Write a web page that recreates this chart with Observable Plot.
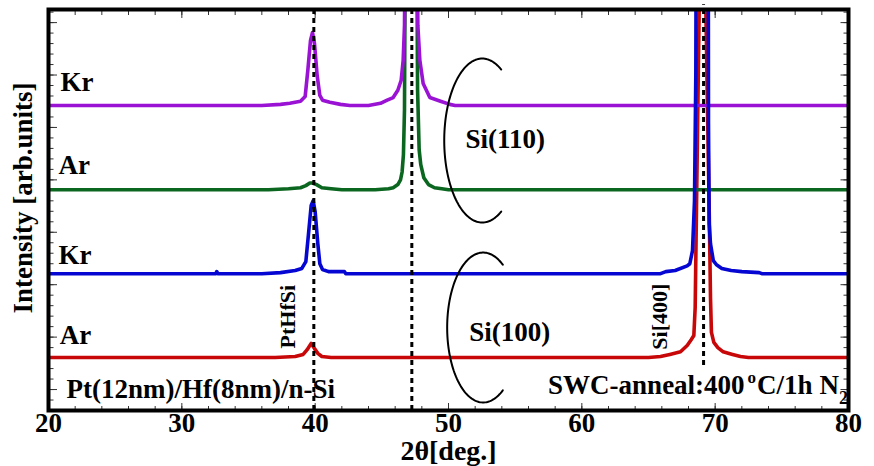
<!DOCTYPE html>
<html><head><meta charset="utf-8">
<script src="https://cdn.jsdelivr.net/npm/d3@7"></script>
<script src="https://cdn.jsdelivr.net/npm/@observablehq/plot@0.6"></script>
<style>body{margin:0;background:#fff} svg{display:block}</style>
</head><body><div id="chart"></div>
<script>
// ---- tick values ----
const xTickLabels = [20, 30, 40, 50, 60, 70, 80];
const xMinorTicks = d3.range(20, 80.01, 2);
const yMajorTicks = d3.range(0, 7.01, 1);
const yMinorTicks = d3.range(-0.4, 7.26, 0.2);

// ---- series: [2theta (deg), intensity above own baseline (arb.)] ----
const traceNames = ["Ar (100)", "Kr (100)", "Ar (110)", "Kr (110)"];
const traceLabels = ["Ar", "Kr", "Ar", "Kr"];
const traceOffsets = [0.61, 2.21, 3.81, 5.42];
const traceColors = ["#c80808", "#0606d2", "#0b6620", "#9a12d4"];

const arSi100 = [[20,0],[37,0],[38.5,.02],[39.1,.06],[39.4,.15],[39.7,.27],[39.95,.17],[40.2,.08],[40.5,.02],[41.2,0],[65,0],[65.9,.02],[66.6,.06],[67.4,.11],[67.9,.23],[68.2,.34],[68.4,.42],[68.5,.95],[68.6,2.86],[68.8,6.64],[68.9,9.5],[69.2,9.5],[69.3,6.64],[69.55,2.86],[69.65,1.14],[69.72,.48],[69.9,.29],[70.2,.19],[70.6,.11],[71.3,.06],[71.9,.02],[72.5,0],[80,0]];
const krSi100 = [[20,0],[32.55,0],[32.62,.04],[32.7,0],[36,0],[37.4,.02],[38.5,.06],[39,.10],[39.3,.23],[39.5,.76],[39.7,1.30],[39.85,1.39],[40,1.18],[40.2,.57],[40.35,.19],[40.55,.08],[41,.04],[42.2,.04],[42.3,0],[65.9,0],[66.3,.04],[67,.06],[67.9,.15],[68.1,.19],[68.3,.44],[68.45,1.39],[68.55,3.82],[68.62,11.4],[69.46,11.4],[69.5,2.86],[69.55,.95],[69.65,.57],[69.86,.25],[70.1,.17],[70.5,.10],[71.2,.06],[72,.04],[73.3,.02],[73.5,0],[80,0]];
const arSi110 = [[20,0],[36.5,0],[38,.02],[38.9,.04],[39.3,.08],[39.6,.13],[39.8,.13],[40.1,.10],[40.5,.04],[41.2,.02],[42,0],[44.5,0],[45.5,.02],[45.85,.04],[46.2,.10],[46.4,.19],[46.52,.34],[46.62,.67],[46.7,1.53],[46.76,5],[47.62,5],[47.68,1.91],[47.8,.76],[47.92,.48],[48.15,.23],[48.5,.10],[48.95,.04],[49.5,.02],[50,0],[80,0]];
const krSi110 = [[20,0],[36,0],[37.4,.02],[38.1,.04],[38.9,.08],[39.25,.17],[39.45,.67],[39.65,1.24],[39.8,1.39],[39.95,1.18],[40.15,.57],[40.35,.19],[40.55,.10],[41.1,.06],[41.9,.02],[42.6,0],[44,0],[44.9,.04],[45.4,.10],[45.85,.15],[46.2,.29],[46.45,.48],[46.6,.86],[46.7,1.53],[46.75,3.5],[47.65,3.5],[47.7,1.53],[47.85,.86],[48.1,.42],[48.6,.15],[49.4,.08],[50.1,.02],[50.5,0],[80,0]];
const traces = [arSi100, krSi100, arSi110, krSi110];

// ---- reference lines (2theta) ----
const refLines = [39.9, 47.25];
const refLineSi400 = 69.13;

// ---- annotation ellipse arcs: center, radii (data units), angle span (deg) ----
const arcs = [
  {cx: 52.53, cy: 4.75, rx: 2.85, ry: 1.564, a0: 60, a1: 300},
  {cx: 52.6, cy: 1.183, rx: 2.70, ry: 1.43, a0: 57, a1: 303}
];

// ---- text annotations ----
const sampleLabelX = [20.85, 20.75, 20.75, 20.9];
const sampleLabelY = [0.878, 2.404, 4.12, 5.704];
const orientNotes = [
  {x: 54.25, y: 4.60, text: "Si(110)"},
  {x: 54.6, y: 0.935, text: "Si(100)"}
];
const sampleNote = {x: 21.35, y: -0.17, text: "Pt(12nm)/Hf(8nm)/n-Si"};
const annealNote = {x: 57.47, y: -0.076, text: "SWC-anneal:400oC/1h N2"};
const peakNotes = [
  {x: 37.97, y: 1.39, text: "PtHfSi"},
  {x: 65.87, y: 1.39, text: "Si[400]"}
];

const frameW = 874 - 48 - 26, frameH = 466 - 9 - 56;
const tickStroke = "#333";

const lineMarks = [0, 2, 3, 1].map(i => Plot.line(traces[i], {
  x: d => d[0], y: d => d[1] + traceOffsets[i],
  stroke: traceColors[i], strokeWidth: 3.6, strokeLinejoin: "round", clip: true
}));

const arcPts = arcs.map(a => d3.range(a.a0, a.a1 + 0.01, 2).map(t => ({
  x: a.cx + a.rx * Math.cos(t * Math.PI / 180),
  y: a.cy + a.ry * Math.sin(t * Math.PI / 180)
})));

const plot = Plot.plot({
  width: 874, height: 466,
  marginLeft: 48, marginRight: 26, marginTop: 9, marginBottom: 56,
  style: {fontFamily: "'Liberation Serif', 'Times New Roman', serif", fontSize: "27px", fontWeight: "bold", background: "#fff", color: "#000"},
  x: {domain: [20, 80]},
  y: {domain: [-0.4, 7.25]},
  marks: [
    // ticks (inward)
    Plot.tickX(xMinorTicks, {x: d => d, insetBottom: frameH - 6, stroke: tickStroke}),
    Plot.tickX(xTickLabels, {x: d => d, insetBottom: frameH - 9, stroke: tickStroke}),
    Plot.tickX(xMinorTicks, {x: d => d, insetTop: frameH - 4, stroke: tickStroke}),
    Plot.tickX(xTickLabels, {x: d => d, insetTop: frameH - 7, stroke: tickStroke}),
    Plot.tickY(yMinorTicks, {y: d => d, insetRight: frameW - 5.5, stroke: tickStroke}),
    Plot.tickY(yMajorTicks, {y: d => d, insetRight: frameW - 9, stroke: tickStroke}),
    Plot.tickY(yMinorTicks, {y: d => d, insetLeft: frameW - 4.5, stroke: tickStroke}),
    Plot.tickY(yMajorTicks, {y: d => d, insetLeft: frameW - 7.5, stroke: tickStroke}),
    Plot.axisX({ticks: xTickLabels, tickSize: 0, tickPadding: 2, tickFormat: d => String(d), label: null}),
    Plot.axisY({ticks: [], label: null}),
    ...lineMarks,
    Plot.ruleX(refLines, {x: d => d, stroke: "#000", strokeWidth: 3, strokeDasharray: "5,4"}),
    Plot.ruleX([refLineSi400], {x: d => d, y1: 0.46, y2: 7.34, stroke: "#000", strokeWidth: 3, strokeDasharray: "5,4"}),
    ...arcPts.map(p => Plot.line(p, {x: "x", y: "y", stroke: "#000", strokeWidth: 2, curve: "linear"})),
    Plot.text(traceLabels, {x: (d, i) => sampleLabelX[i], y: (d, i) => sampleLabelY[i], text: d => d, textAnchor: "start", lineAnchor: "bottom", fill: "#000"}),
    Plot.text(orientNotes, {x: "x", y: "y", text: "text", textAnchor: "middle", lineAnchor: "bottom", fill: "#000"}),
    Plot.text([sampleNote], {x: "x", y: "y", text: "text", textAnchor: "start", lineAnchor: "bottom", fill: "#000"}),
    Plot.text([annealNote], {x: "x", y: "y", text: "text", textAnchor: "start", lineAnchor: "bottom", fill: "#000"}),
    Plot.text(peakNotes, {x: "x", y: "y", text: "text", rotate: -90, textAnchor: "middle", lineAnchor: "middle", fontSize: 22, fill: "#000"}),
    Plot.text(["Intensity [arb.units]"], {frameAnchor: "left", text: d => d, rotate: -90, dx: -25, dy: -12, textAnchor: "middle", lineAnchor: "middle", fill: "#000"}),
    Plot.text(["2θ[deg.]"], {frameAnchor: "bottom", text: d => d, dy: 49, textAnchor: "middle", lineAnchor: "bottom", fontSize: 28, fill: "#000"}),
    Plot.frame({stroke: "#000", strokeWidth: 4})
  ]
});

// superscript / subscript for the anneal label
plot.querySelectorAll("text").forEach(t => {
  if (t.textContent === "SWC-anneal:400oC/1h N2") {
    const ns = "http://www.w3.org/2000/svg";
    while (t.firstChild) t.removeChild(t.firstChild);
    const parts = [["SWC-anneal:400", 0, null, 0], ["o", -11, 17, 3], ["C/1h N", 11, 27, 1], ["2", 10, 18, 0]];
    parts.forEach(([s, dy, fs, dx]) => {
      const sp = document.createElementNS(ns, "tspan");
      sp.textContent = s;
      if (dy) sp.setAttribute("dy", dy);
      if (dx) sp.setAttribute("dx", dx);
      if (fs) sp.setAttribute("font-size", fs);
      t.appendChild(sp);
    });
  }
});

document.getElementById("chart").appendChild(plot);
</script>
</body></html>
